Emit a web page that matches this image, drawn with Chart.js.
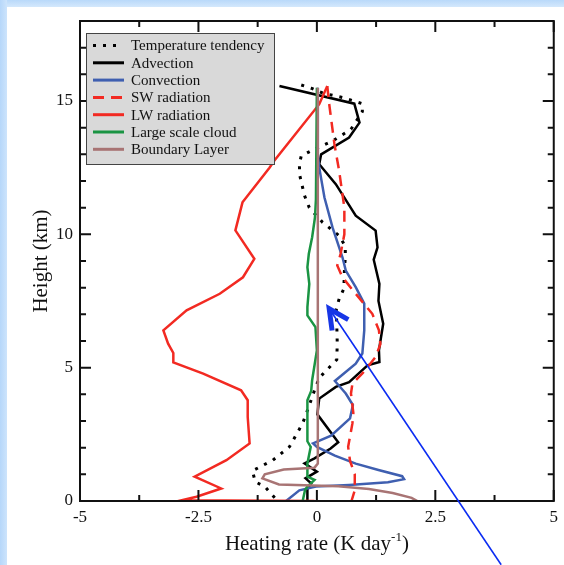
<!DOCTYPE html>
<html>
<head>
<meta charset="utf-8">
<script src="https://cdn.jsdelivr.net/npm/chart.js@4.4.1/dist/chart.umd.min.js"></script>
<style>
  html, body { margin: 0; padding: 0; background: #fff; }
  #wrap { position: relative; width: 564px; height: 565px; overflow: hidden; }
  #stripTop { position: absolute; left: 0; top: 0; width: 564px; height: 7px; background: linear-gradient(#b9d9fa, #d4e8fc); }
  #stripLeft { position: absolute; left: 0; top: 0; width: 7px; height: 565px; background: linear-gradient(90deg, #b6d7fa, #cde4fc); }
  canvas { position: absolute; left: 0; top: 0; }
</style>
</head>
<body>
<div id="wrap">
  <div id="stripTop"></div>
  <div id="stripLeft"></div>
  <canvas id="perfil" width="564" height="565"></canvas>
</div>
<script>
// eixos
const xTicks = [-5, -2.5, 0, 2.5, 5];
const yTicks = [0, 5, 10, 15];

// perfis: altura (km) e taxa de aquecimento (K/dia)
const ttHeights = [15.6, 15.48, 15.3, 15.13, 14.9, 14.6, 13.94, 13.5, 13.16, 12.94, 12.63, 12.2, 11.45, 11.0, 10.45, 9.95, 9.55, 9.14, 8.6, 7.96, 7.58, 7.2, 6.6, 5.9, 5.3, 4.95, 4.62, 4.15, 3.59, 2.91, 2.03, 1.53, 1.13, 0.72, 0.54, 0.1, 0];
const ttValues  = [-0.33, -0.12, 0.12, 0.54, 0.96, 0.96, 0.72, 0.33, -0.09, -0.33, -0.37, -0.36, -0.26, -0.16, 0.12, 0.47, 0.6, 0.6, 0.58, 0.57, 0.47, 0.41, 0.42, 0.43, 0.42, 0.23, 0.05, -0.05, -0.16, -0.3, -0.58, -0.93, -1.36, -1.3, -1.1, -0.88, -0.88];

const advHeights = [15.56, 14.9, 14.19, 13.63, 13.0, 12.63, 11.88, 10.7, 10.14, 9.51, 9.05, 8.14, 7.5, 6.65, 5.65, 5.21, 5.09, 4.46, 4.28, 3.84, 3.25, 2.2, 1.97, 1.6, 1.41, 1.1, 0.85, 0.66, 0.45, 0];
const advValues  = [-0.79, 0.79, 0.9, 0.68, 0.09, 0.05, 0.4, 0.82, 1.24, 1.28, 1.2, 1.32, 1.3, 1.4, 1.31, 1.32, 1.07, 0.68, 0.4, 0.05, 0.01, 0.45, 0.29, -0.05, -0.26, 0.0, -0.24, -0.12, -0.2, -0.2];

const convHeights = [15.5, 13.0, 12.5, 11.38, 10.26, 9.14, 8.64, 8.02, 7.4, 6.4, 5.53, 5.15, 4.5, 4.03, 3.6, 3.1, 2.45, 2.16, 2.03, 1.7, 1.4, 1.16, 0.93, 0.82, 0.7, 0.6, 0.54, 0.4, 0];
const convValues  = [0.02, 0.02, 0.05, 0.16, 0.33, 0.54, 0.61, 0.82, 1.0, 1.0, 0.96, 0.82, 0.38, 0.61, 0.76, 0.7, 0.3, -0.08, 0.0, 0.38, 0.82, 1.3, 1.8, 1.84, 1.5, 0.68, -0.02, -0.37, -0.65];

const swHeights = [15.56, 14.89, 13.39, 12.38, 11.0, 10.0, 9.26, 8.83, 8.39, 7.77, 7.02, 6.4, 5.88, 5.4, 4.78, 4.4, 4.03, 3.3, 2.91, 2.03, 1.5, 1.0, 0.4, 0];
const swValues  = [0.22, 0.26, 0.37, 0.47, 0.58, 0.58, 0.5, 0.43, 0.54, 0.82, 1.17, 1.31, 1.34, 1.24, 0.96, 0.75, 0.72, 0.77, 0.75, 0.66, 0.7, 0.8, 0.8, 0.73];

const lwHeights = [15.56, 14.88, 12.76, 12.5, 11.2, 10.15, 9.08, 8.39, 7.77, 7.15, 6.4, 5.9, 5.55, 5.2, 4.78, 4.15, 3.78, 3.15, 2.16, 1.53, 0.91, 0.47, 0.16, 0.03, 0];
const lwValues  = [0.22, 0.05, -0.9, -1.0, -1.57, -1.72, -1.32, -1.56, -2.05, -2.75, -3.24, -3.14, -3.03, -3.03, -2.4, -1.6, -1.46, -1.46, -1.42, -1.91, -2.58, -2.02, -2.54, -2.85, -0.05];

const lscHeights = [15.5, 11.3, 10.64, 9.89, 9.27, 8.77, 8.14, 7.27, 6.96, 6.52, 5.65, 4.53, 4.13, 3.78, 2.91, 2.24, 2.03, 1.41, 0.91, 0.79, 0.54, 0.41, 0];
const lscValues  = [0.0, -0.02, -0.04, -0.1, -0.17, -0.2, -0.16, -0.2, -0.2, -0.03, 0.0, -0.1, -0.12, -0.2, -0.2, -0.2, -0.13, -0.2, -0.2, -0.05, -0.2, -0.25, -0.3];

const blHeights = [15.5, 1.4, 1.25, 1.18, 1.0, 0.85, 0.62, 0.55, 0.45, 0.3, 0.12, 0];
const blValues  = [0.02, 0.02, -0.05, -0.7, -1.1, -1.15, -0.8, 0.45, 1.1, 1.6, 2.0, 2.12];

// seta azul desenhada por cima (coordenadas nos eixos)
const arrowFrom = { x: 3.89, y: -2.39 };
const arrowTo = { x: 0.26, y: 7.21 };

function pares(h, v) {
    return h.map((y, i) => ({ x: v[i], y: y }));
}

const serif = '"Liberation Serif", "Times New Roman", serif';
Chart.defaults.font.family = serif;
Chart.defaults.color = '#000';

const molduraPlugin = {
    id: 'moldura',
    afterDatasetsDraw(chart) {
        const { ctx, chartArea: a, scales: { x, y } } = chart;
        ctx.save();
        ctx.strokeStyle = '#111';
        ctx.lineWidth = 2;
        ctx.beginPath();
        for (let v = -5; v <= 5.001; v += 1.25) {
            const px = x.getPixelForValue(v);
            const len = Math.abs(v % 2.5) < 1e-6 ? 11 : 6;
            ctx.moveTo(px, a.bottom); ctx.lineTo(px, a.bottom - len);
            ctx.moveTo(px, a.top); ctx.lineTo(px, a.top + len);
        }
        for (let v = 0; v <= 18; v++) {
            const py = y.getPixelForValue(v);
            const len = v % 5 === 0 ? 11 : 6;
            ctx.moveTo(a.left, py); ctx.lineTo(a.left + len, py);
            ctx.moveTo(a.right, py); ctx.lineTo(a.right - len, py);
        }
        ctx.stroke();
        ctx.strokeRect(a.left, a.top, a.right - a.left, a.bottom - a.top);
        ctx.restore();
    },
    afterDraw(chart) {
        const { ctx, chartArea: a, scales: { x, y } } = chart;
        ctx.save();

        // legenda
        ctx.fillStyle = '#d9d9d9';
        ctx.fillRect(86, 33, 188, 131);
        ctx.strokeStyle = '#444';
        ctx.lineWidth = 1;
        ctx.strokeRect(86.5, 33.5, 188, 131);
        ctx.font = '15px ' + serif;
        ctx.textBaseline = 'middle';
        chart.data.datasets.forEach((ds, i) => {
            const yy = 45.5 + i * 17.3;
            ctx.strokeStyle = ds.borderColor;
            ctx.lineWidth = 3;
            ctx.setLineDash(ds.borderDash || []);
            ctx.beginPath();
            ctx.moveTo(93, yy);
            ctx.lineTo(ds.borderDash && ds.borderDash[0] < 5 ? 117 : 124, yy);
            ctx.stroke();
            ctx.setLineDash([]);
            ctx.fillStyle = '#111';
            ctx.fillText(ds.label, 131, yy + 1);
        });

        // títulos dos eixos
        ctx.fillStyle = '#111';
        ctx.textBaseline = 'alphabetic';
        const p1 = 'Heating rate (K day', sup = '-1', p2 = ')';
        ctx.font = '21px ' + serif;
        const w1 = ctx.measureText(p1).width, w2 = ctx.measureText(p2).width;
        ctx.font = '13px ' + serif;
        const ws = ctx.measureText(sup).width;
        let sx = (a.left + a.right) / 2 - (w1 + ws + w2) / 2;
        ctx.font = '21px ' + serif;
        ctx.textAlign = 'left';
        ctx.fillText(p1, sx, 550);
        ctx.fillText(p2, sx + w1 + ws, 550);
        ctx.font = '13px ' + serif;
        ctx.fillText(sup, sx + w1, 541);

        ctx.translate(47, (a.top + a.bottom) / 2);
        ctx.rotate(-Math.PI / 2);
        ctx.font = '21px ' + serif;
        ctx.textAlign = 'center';
        ctx.fillText('Height (km)', 0, 0);
        ctx.setTransform(1, 0, 0, 1, 0, 0);

        // seta
        const x0 = x.getPixelForValue(arrowFrom.x), y0 = y.getPixelForValue(arrowFrom.y);
        const x1 = x.getPixelForValue(arrowTo.x), y1 = y.getPixelForValue(arrowTo.y);
        ctx.strokeStyle = '#0b2cf2';
        ctx.lineWidth = 1.6;
        ctx.beginPath();
        ctx.moveTo(x0, y0);
        ctx.lineTo(x1, y1);
        ctx.stroke();
        const ang = Math.atan2(y0 - y1, x0 - x1);
        ctx.strokeStyle = '#1736e6';
        ctx.lineWidth = 5;
        ctx.lineJoin = 'miter';
        ctx.beginPath();
        ctx.moveTo(x1 + 22 * Math.cos(ang + 0.46), y1 + 22 * Math.sin(ang + 0.46));
        ctx.lineTo(x1, y1);
        ctx.lineTo(x1 + 22 * Math.cos(ang - 0.46), y1 + 22 * Math.sin(ang - 0.46));
        ctx.stroke();
        ctx.restore();
    }
};

function serie(label, h, v, cor, extra) {
    return Object.assign({
        label: label,
        data: pares(h, v),
        borderColor: cor,
        backgroundColor: cor,
        borderWidth: 2.5,
        pointRadius: 0,
        showLine: true,
        fill: false,
        tension: 0
    }, extra || {});
}

new Chart(document.getElementById('perfil'), {
    type: 'scatter',
    data: {
        datasets: [
            serie('Temperature tendency', ttHeights, ttValues, '#000000', { borderDash: [3, 7], borderWidth: 3, order: 7 }),
            serie('Advection', advHeights, advValues, '#000000', { order: 6 }),
            serie('Convection', convHeights, convValues, '#3f5fb0', { order: 5 }),
            serie('SW radiation', swHeights, swValues, '#f22a22', { borderDash: [11, 7], order: 4 }),
            serie('LW radiation', lwHeights, lwValues, '#f22a22', { order: 3 }),
            serie('Large scale cloud', lscHeights, lscValues, '#1a9443', { order: 2 }),
            serie('Boundary Layer', blHeights, blValues, '#a87474', { order: 1 })
        ]
    },
    options: {
        responsive: false,
        animation: false,
        layout: { padding: { top: 21, right: 8, left: 0, bottom: 0 } },
        plugins: { legend: { display: false }, tooltip: { enabled: false } },
        scales: {
            x: {
                type: 'linear',
                min: -5, max: 5,
                afterFit: s => { s.height = 64; },
                afterBuildTicks: s => { s.ticks = xTicks.map(v => ({ value: v })); },
                grid: { display: false, drawTicks: false },
                border: { display: false },
                ticks: { padding: 6, font: { size: 17 }, color: '#111', maxRotation: 0, callback: v => String(v) }
            },
            y: {
                type: 'linear',
                min: 0, max: 18,
                afterFit: s => { s.width = 80; },
                afterBuildTicks: s => { s.ticks = yTicks.map(v => ({ value: v })); },
                grid: { display: false, drawTicks: false },
                border: { display: false },
                ticks: { padding: 7, font: { size: 17 }, color: '#111', callback: v => String(v) }
            }
        }
    },
    plugins: [molduraPlugin]
});
</script>
</body>
</html>
